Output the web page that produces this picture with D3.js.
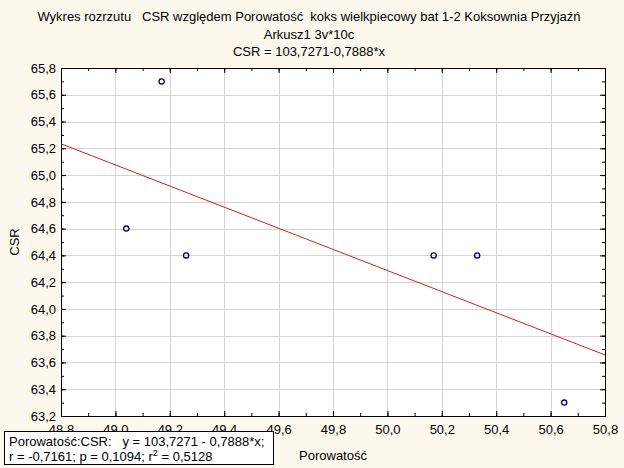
<!DOCTYPE html>
<html><head><meta charset="utf-8">
<script src="https://cdn.jsdelivr.net/npm/d3@7"></script>
<style>
html,body{margin:0;padding:0;background:#fcf8ed;}
svg{display:block;font-family:"Liberation Sans",Arial,sans-serif;}
text{white-space:pre;}
</style></head><body>
<script>
const titleLines = ["Wykres rozrzutu   CSR względem Porowatość  koks wielkpiecowy bat 1-2 Koksownia Przyjaźń", "Arkusz1 3v*10c", "CSR = 103,7271-0,7888*x"];
const porowatosc = [49.04, 49.17, 49.26, 50.17, 50.33, 50.65];
const csr = [64.6, 65.7, 64.4, 64.4, 64.4, 63.3];
const intercept = 103.7271, slope = -0.7888;
const xTicks = [48.8, 49.0, 49.2, 49.4, 49.6, 49.8, 50.0, 50.2, 50.4, 50.6, 50.8];
const yTicks = [63.2, 63.4, 63.6, 63.8, 64.0, 64.2, 64.4, 64.6, 64.8, 65.0, 65.2, 65.4, 65.6, 65.8];
const legendLines = ["Porowatość:CSR:   y = 103,7271 - 0,7888*x;", "r = -0,7161; p = 0,1094; r² = 0,5128"];

const W = 624, H = 468, FS = 13;
const m = {l: 61, r: 605, t: 68, b: 416};
const svg = d3.select("body").append("svg").attr("width", W).attr("height", H);
svg.append("rect").attr("width", W).attr("height", H).attr("fill", "#fcf8ed");

const x = d3.scaleLinear().domain([48.8, 50.8]).range([m.l, m.r]);
const y = d3.scaleLinear().domain([63.2, 65.8]).range([m.b, m.t]);
const fmt = v => d3.format(".1f")(v).replace(".", ",");

svg.append("rect").attr("x", m.l).attr("y", m.t).attr("width", m.r - m.l).attr("height", m.b - m.t).attr("fill", "#fff");

// gridlines
svg.append("g").selectAll("line").data(xTicks.slice(1, -1)).join("line")
  .attr("x1", d => Math.round(x(d)) + 0.5).attr("x2", d => Math.round(x(d)) + 0.5)
  .attr("y1", m.t).attr("y2", m.b).attr("stroke", "#d4d4d4").attr("stroke-width", 1);
svg.append("g").selectAll("line").data(yTicks.slice(1, -1)).join("line")
  .attr("y1", d => Math.round(y(d)) + 0.5).attr("y2", d => Math.round(y(d)) + 0.5)
  .attr("x1", m.l).attr("x2", m.r).attr("stroke", "#d4d4d4").attr("stroke-width", 1);

// axes with inward ticks (major + minor)
const minorX = d3.range(0, 21).map(i => 48.8 + i * 0.1);
const minorY = d3.range(0, 27).map(i => 63.2 + i * 0.1);
function axisG(axis, tx, ty) {
  const g = svg.append("g").attr("transform", `translate(${tx},${ty})`).call(axis);
  g.select(".domain").remove();
  g.selectAll("line").attr("stroke", "#000");
  return g;
}
axisG(d3.axisBottom(x).tickValues(minorX).tickSize(-3).tickFormat(""), 0, m.b);
axisG(d3.axisTop(x).tickValues(minorX).tickSize(-3).tickFormat(""), 0, m.t);
axisG(d3.axisLeft(y).tickValues(minorY).tickSize(-3).tickFormat(""), m.l, 0);
axisG(d3.axisRight(y).tickValues(minorY).tickSize(-3).tickFormat(""), m.r, 0);
axisG(d3.axisBottom(x).tickValues(xTicks).tickSize(-5).tickFormat(""), 0, m.b);
axisG(d3.axisTop(x).tickValues(xTicks).tickSize(-5).tickFormat(""), 0, m.t);
axisG(d3.axisLeft(y).tickValues(yTicks).tickSize(-5).tickFormat(""), m.l, 0);
axisG(d3.axisRight(y).tickValues(yTicks).tickSize(-5).tickFormat(""), m.r, 0);

// tick labels
const xl = axisG(d3.axisBottom(x).tickValues(xTicks).tickSize(0).tickPadding(9).tickFormat(fmt), 0, m.b);
xl.selectAll("text").attr("font-size", FS).attr("fill", "#000").attr("font-family", "Liberation Sans, Arial");
const yl = axisG(d3.axisLeft(y).tickValues(yTicks).tickSize(0).tickPadding(5).tickFormat(fmt), m.l, 0);
yl.selectAll("text").attr("font-size", FS).attr("fill", "#000").attr("font-family", "Liberation Sans, Arial");

// frame
svg.append("rect").attr("x", m.l + 0.5).attr("y", m.t + 0.5).attr("width", m.r - m.l).attr("height", m.b - m.t)
  .attr("fill", "none").attr("stroke", "#000").attr("stroke-width", 1);

// regression line
svg.append("clipPath").attr("id", "c").append("rect").attr("x", m.l).attr("y", m.t).attr("width", m.r - m.l).attr("height", m.b - m.t);
svg.append("line").attr("clip-path", "url(#c)")
  .attr("x1", x(48.8)).attr("y1", y(intercept + slope * 48.8))
  .attr("x2", x(50.8)).attr("y2", y(intercept + slope * 50.8))
  .attr("stroke", "#d42020").attr("stroke-width", 1);

// points
svg.append("g").selectAll("circle").data(porowatosc.map((v, i) => [v, csr[i]])).join("circle")
  .attr("cx", d => x(d[0])).attr("cy", d => y(d[1])).attr("r", 2.6)
  .attr("fill", "none").attr("stroke", "#000080").attr("stroke-width", 1.3);

// titles
svg.append("g").selectAll("text").data(titleLines).join("text")
  .attr("x", 309).attr("y", (d, i) => 21 + i * 17.5).attr("text-anchor", "middle")
  .attr("font-size", FS).attr("fill", "#000").text(d => d);

// axis titles
svg.append("text").attr("x", 333).attr("y", 460).attr("text-anchor", "middle").attr("font-size", FS).text("Porowatość");
svg.append("text").attr("transform", "translate(19,242) rotate(-90)").attr("text-anchor", "middle").attr("font-size", FS).text("CSR");

// legend box
const lg = svg.append("g");
lg.append("rect").attr("x", 4.5).attr("y", 431.5).attr("width", 269).attr("height", 33).attr("fill", "#fff").attr("stroke", "#000");
lg.append("text").attr("x", 9).attr("y", 446).attr("font-size", FS).text(legendLines[0]);
const t2 = lg.append("text").attr("x", 9).attr("y", 461).attr("font-size", FS);
t2.append("tspan").text("r = -0,7161; p = 0,1094; r");
t2.append("tspan").attr("dy", -5).attr("font-size", 9).text("2");
t2.append("tspan").attr("dy", 5).text(" = 0,5128");
</script>
</body></html>
